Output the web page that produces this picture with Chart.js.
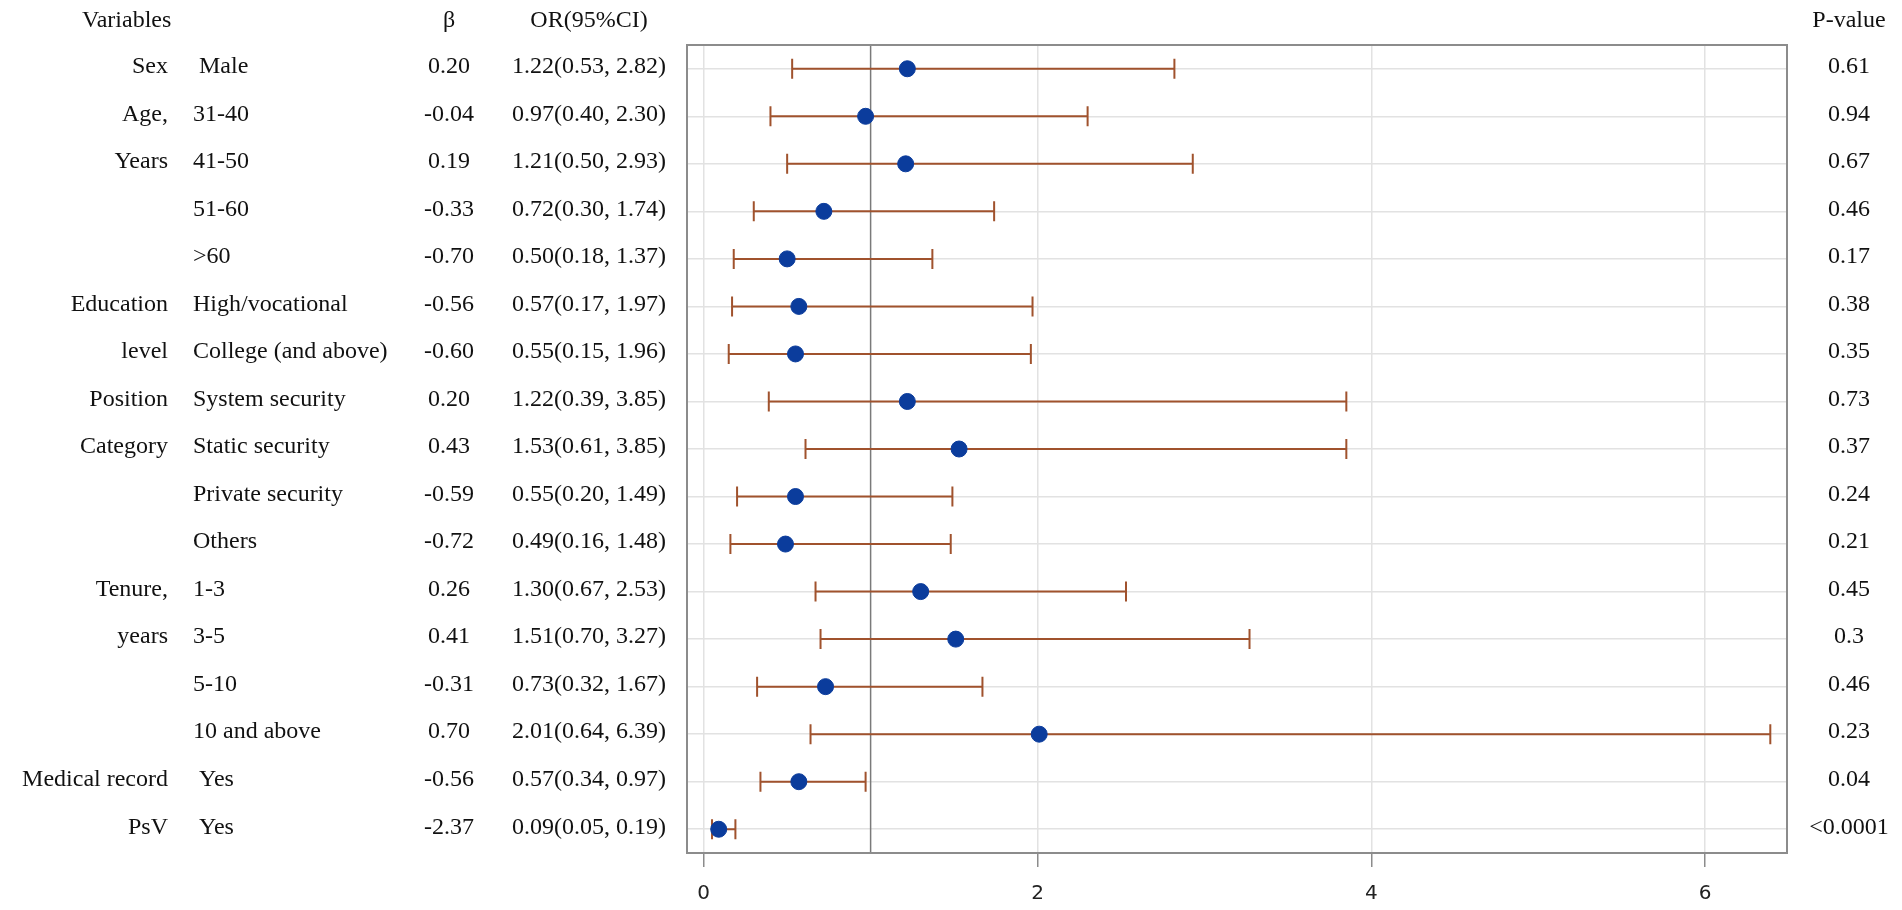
<!DOCTYPE html>
<html>
<head>
<meta charset="utf-8">
<script src="https://cdn.jsdelivr.net/npm/chart.js@4.4.0/dist/chart.umd.min.js"></script>
<style>
  html, body { margin: 0; padding: 0; background: #fff; overflow: hidden; }
  #forest { display: block; }
</style>
</head>
<body>
<canvas id="forest" width="1902" height="910"></canvas>
<script>
// table columns, one entry per row
var groups = ['Sex', 'Age,', 'Years', '', '', 'Education', 'level', 'Position', 'Category', '', '',
              'Tenure,', 'years', '', '', 'Medical record', 'PsV'];
var levels = [' Male', '31-40', '41-50', '51-60', '>60', 'High/vocational', 'College (and above)',
              'System security', 'Static security', 'Private security', 'Others',
              '1-3', '3-5', '5-10', '10 and above', ' Yes', ' Yes'];
var betas = ['0.20', '-0.04', '0.19', '-0.33', '-0.70', '-0.56', '-0.60', '0.20', '0.43', '-0.59', '-0.72',
             '0.26', '0.41', '-0.31', '0.70', '-0.56', '-2.37'];
var oddsRatio = [1.22, 0.97, 1.21, 0.72, 0.50, 0.57, 0.55, 1.22, 1.53, 0.55, 0.49, 1.30, 1.51, 0.73, 2.01, 0.57, 0.09];
var ciLow  = [0.53, 0.40, 0.50, 0.30, 0.18, 0.17, 0.15, 0.39, 0.61, 0.20, 0.16, 0.67, 0.70, 0.32, 0.64, 0.34, 0.05];
var ciHigh = [2.82, 2.30, 2.93, 1.74, 1.37, 1.97, 1.96, 3.85, 3.85, 1.49, 1.48, 2.53, 3.27, 1.67, 6.39, 0.97, 0.19];
var pValues = ['0.61', '0.94', '0.67', '0.46', '0.17', '0.38', '0.35', '0.73', '0.37', '0.24', '0.21',
               '0.45', '0.3', '0.46', '0.23', '0.04', '<0.0001'];
var xTicks = [0, 2, 4, 6];
var headers = { variables: 'Variables', beta: 'β', or: 'OR(95%CI)', p: 'P-value' };

var rowKeys = levels.map(function (l, i) { return 'r' + i; });
var points = oddsRatio.map(function (v, i) { return { x: v, y: rowKeys[i] }; });

var serif = '"Liberation Serif", "Times New Roman", serif';

// whiskers for the confidence intervals
var ciBars = {
  id: 'ciBars',
  beforeDatasetsDraw: function (chart) {
    var ctx = chart.ctx, xs = chart.scales.x, ys = chart.scales.y;
    ctx.save();
    // reference line at OR = 1
    var x1 = xs.getPixelForValue(1);
    ctx.strokeStyle = '#7a7a7a';
    ctx.lineWidth = 1.5;
    ctx.beginPath();
    ctx.moveTo(x1, chart.chartArea.top);
    ctx.lineTo(x1, chart.chartArea.bottom);
    ctx.stroke();

    ctx.strokeStyle = '#a0522d';
    ctx.lineWidth = 2;
    for (var i = 0; i < oddsRatio.length; i++) {
      var y = ys.getPixelForValue(i);
      var a = xs.getPixelForValue(ciLow[i]);
      var b = xs.getPixelForValue(ciHigh[i]);
      ctx.beginPath();
      ctx.moveTo(a, y); ctx.lineTo(b, y);
      ctx.moveTo(a, y - 10); ctx.lineTo(a, y + 10);
      ctx.moveTo(b, y - 10); ctx.lineTo(b, y + 10);
      ctx.stroke();
    }
    ctx.restore();
  },
  afterDraw: function (chart) {
    var ctx = chart.ctx, ys = chart.scales.y, area = chart.chartArea;
    ctx.save();
    // frame
    ctx.strokeStyle = '#8c8c8c';
    ctx.lineWidth = 2;
    ctx.strokeRect(area.left, area.top, area.right - area.left, area.bottom - area.top);

    ctx.fillStyle = '#111';
    ctx.font = '24px ' + serif;
    ctx.textBaseline = 'middle';
    var hy = 21;
    ctx.textAlign = 'left';   ctx.fillText(headers.variables, 82, hy);
    ctx.textAlign = 'center'; ctx.fillText(headers.beta, 449, hy);
    ctx.fillText(headers.or, 589, hy);
    ctx.fillText(headers.p, 1849, hy);

    for (var i = 0; i < levels.length; i++) {
      var y = ys.getPixelForValue(i) - 2;
      ctx.textAlign = 'right';  ctx.fillText(groups[i], 168, y);
      ctx.textAlign = 'left';   ctx.fillText(levels[i], 193, y);
      ctx.textAlign = 'center'; ctx.fillText(betas[i], 449, y);
      ctx.fillText(oddsRatio[i].toFixed(2) + '(' + ciLow[i].toFixed(2) + ', ' + ciHigh[i].toFixed(2) + ')', 589, y);
      ctx.fillText(pValues[i], 1849, y);
    }
    ctx.restore();
  }
};

new Chart(document.getElementById('forest'), {
  type: 'scatter',
  data: {
    labels: rowKeys,
    datasets: [{
      data: points,
      backgroundColor: '#0b3c9c',
      borderColor: '#0b3c9c',
      pointRadius: 8,
      pointHoverRadius: 8
    }]
  },
  options: {
    responsive: false,
    animation: false,
    devicePixelRatio: 1,
    events: [],
    layout: { padding: { left: 687, right: 115, top: 45, bottom: 0 } },
    plugins: { legend: { display: false }, tooltip: { enabled: false } },
    scales: {
      x: {
        type: 'linear',
        min: -0.1,
        max: 6.49,
        afterBuildTicks: function (scale) {
          scale.ticks = xTicks.map(function (v) { return { value: v }; });
        },
        afterFit: function (scale) { scale.height = 57; },
        grid: { color: '#e2e2e2', lineWidth: 1.5, tickLength: 14, tickColor: '#8c8c8c', tickWidth: 1.5 },
        border: { display: false },
        ticks: { color: '#222', font: { family: '"DejaVu Sans", sans-serif', size: 20 }, padding: 15 }
      },
      y: {
        type: 'category',
        labels: rowKeys,
        offset: true,
        grid: { color: '#e2e2e2', lineWidth: 1.5, drawTicks: false },
        border: { display: false },
        ticks: { display: false }
      }
    }
  },
  plugins: [ciBars]
});
</script>
</body>
</html>
